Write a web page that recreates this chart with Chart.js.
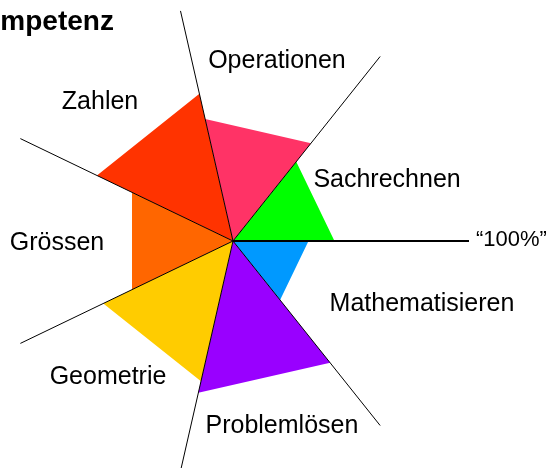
<!DOCTYPE html>
<html>
<head>
<meta charset="utf-8">
<title>Kompetenz</title>
<script src="https://cdn.jsdelivr.net/npm/chart.js@4.4.1/dist/chart.umd.min.js"></script>
<style>
    html, body { margin: 0; padding: 0; background: #fff; overflow: hidden; }
    #wrap { position: relative; width: 554px; height: 468px; overflow: hidden; }
    /* canvas is a bit larger than the window: the spokes run past the bottom edge */
    #chart { position: absolute; left: -4px; top: 0; }
</style>
</head>
<body>
<div id="wrap"><canvas id="chart" width="560" height="480"></canvas></div>
<script>
// competence areas, counter-clockwise starting at the "100%" spoke
const categories = ['Sachrechnen', 'Operationen', 'Zahlen', 'Grössen', 'Geometrie', 'Problemlösen', 'Mathematisieren'];
// reached share of each area, in percent of a full spoke
const values = [43, 53, 64, 47.5, 61, 66, 32];
const colours = ['#00ff00', '#ff3366', '#ff3300', '#ff6600', '#ffcc00', '#9900ff', '#0099ff'];
// one label per spoke, only the first one is written
const spokeLabels = ['\u201c100%\u201d', '', '', '', '', '', ''];
const scaleMax = 100;
const chartTitle = 'Kompetenz';

// where the area names sit: angle in degrees (counter-clockwise from the 100% spoke)
// and distance from the centre in scale units
const labelAngles = [22.4, 76.4, 133.4, 180, 226.9, 285, 342];
const labelDistances = [70.6, 79.2, 82, 74.6, 77.5, 80.1, 84.2];

const FONT = '"Liberation Sans", Arial, Helvetica, sans-serif';

// every area is a triangle between two neighbouring spokes.
// Chart.js counts spokes clockwise, the areas above go counter-clockwise.
const n = categories.length;
const datasets = categories.map((name, j) => {
    const data = new Array(n).fill(0);
    data[(n - j) % n] = values[j];
    data[n - 1 - j] = values[j];
    return {
        label: name,
        data: data,
        backgroundColor: colours[j],
        borderWidth: 0,
        pointRadius: 0,
        pointHoverRadius: 0,
        fill: 'origin'
    };
});

// names of the areas, the spoke label and the title
const textPlugin = {
    id: 'areaNames',
    afterDraw(chart) {
        const scale = chart.scales.r;
        const ctx = chart.ctx;
        ctx.save();
        ctx.fillStyle = '#000';
        ctx.textBaseline = 'alphabetic';

        ctx.textAlign = 'center';
        ctx.font = '25px ' + FONT;
        categories.forEach((name, j) => {
            const a = labelAngles[j] * Math.PI / 180;
            const d = scale.getDistanceFromCenterForValue(labelDistances[j]);
            const x = scale.xCenter + Math.cos(a) * d;
            const y = scale.yCenter - Math.sin(a) * d;
            ctx.fillText(name, x, y + 9);
        });

        const end = scale.getPointPositionForValue(0, scaleMax);
        ctx.textAlign = 'left';
        ctx.font = '22px ' + FONT;
        ctx.fillText(spokeLabels[0], end.x + 7, end.y + 5);

        // the title is cut by the left border in the original
        ctx.font = 'bold 28px ' + FONT;
        ctx.fillText(chartTitle, -33, 30);
        ctx.restore();
    }
};

new Chart(document.getElementById('chart').getContext('2d'), {
    type: 'radar',
    data: {
        labels: spokeLabels,
        datasets: datasets
    },
    options: {
        responsive: false,
        maintainAspectRatio: false,
        animation: false,
        events: [],
        layout: { padding: { left: 1, top: 5, right: 87, bottom: 3 } },
        elements: { line: { tension: 0 } },
        plugins: {
            legend: { display: false },
            tooltip: { enabled: false },
            title: { display: false }
        },
        scales: {
            r: {
                min: 0,
                max: scaleMax,
                startAngle: 90,
                ticks: { display: false },
                pointLabels: { display: false },
                // z > 0 puts the spokes on top of the coloured areas
                grid: { display: false, z: 1 },
                angleLines: {
                    display: true,
                    color: '#000',
                    lineWidth: ctx => ctx.index === 0 ? 2 : 1
                }
            }
        }
    },
    plugins: [textPlugin]
});
</script>
</body>
</html>
